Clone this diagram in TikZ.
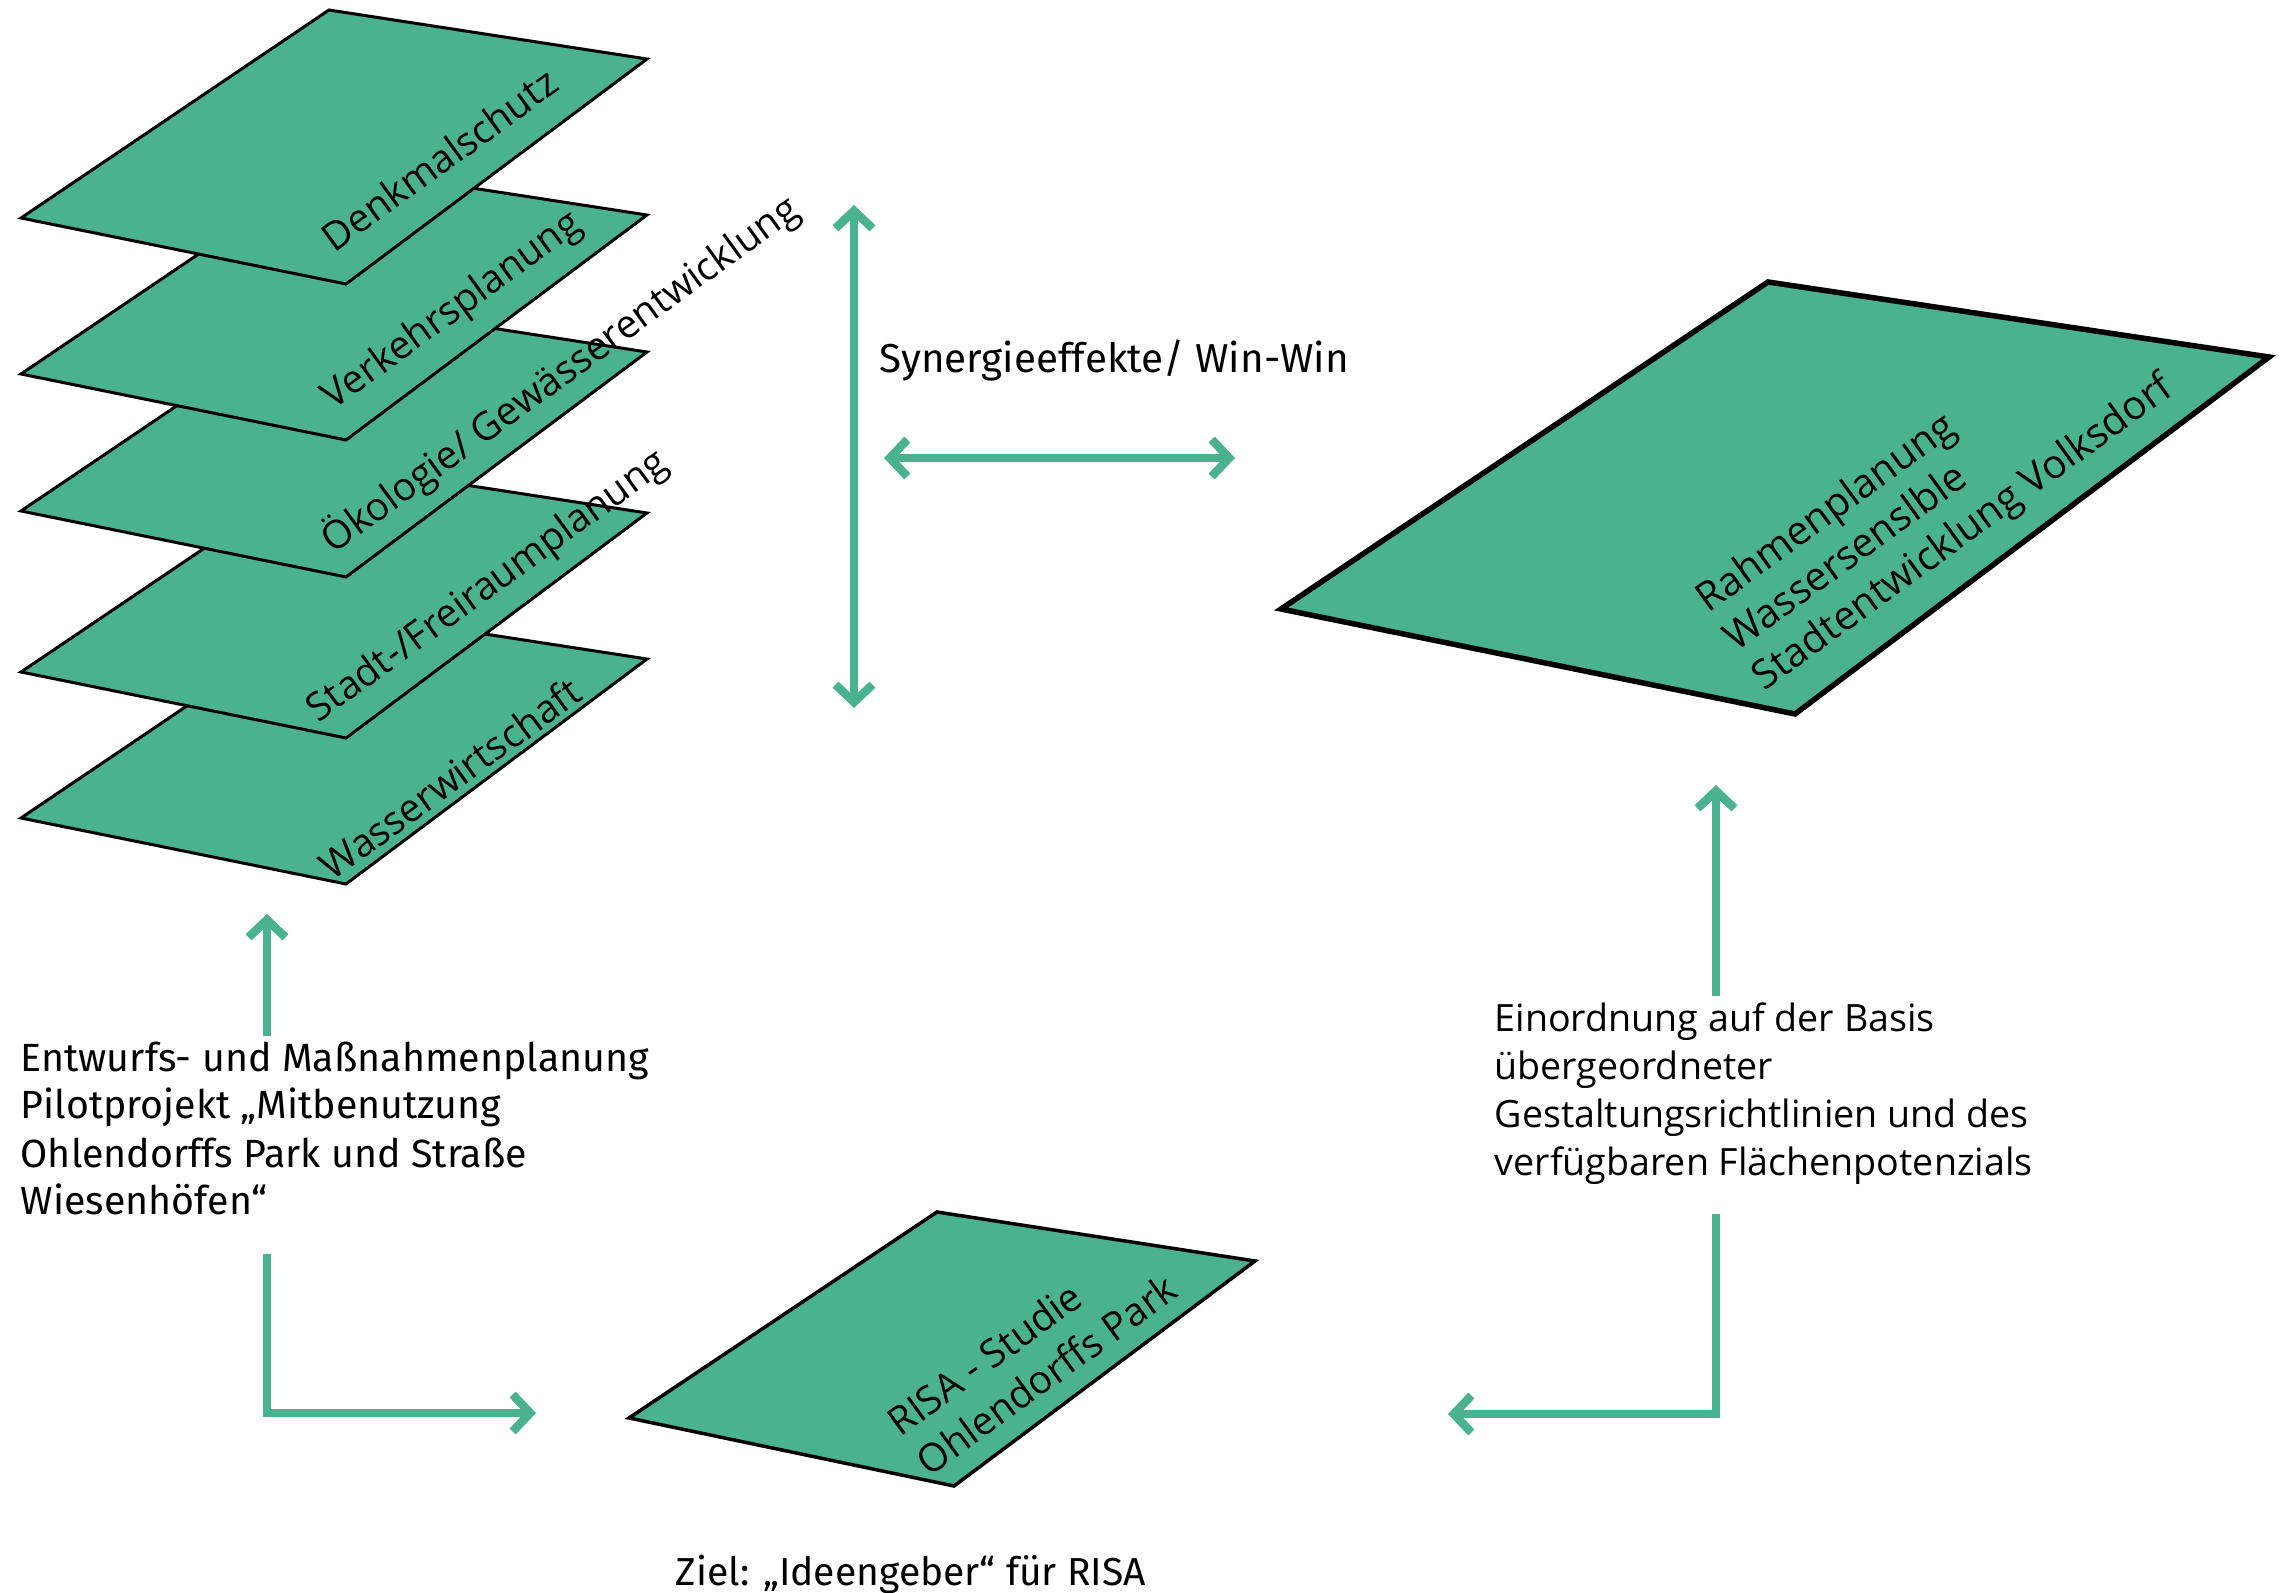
\documentclass[tikz,border=0pt]{standalone}
\usepackage{fontspec}
\newfontfamily\firaf{Fira Sans}
\newfontfamily\opensf{Open Sans}
\usetikzlibrary{arrows.meta}
\definecolor{risagreen}{RGB}{75,178,143}
\begin{document}
\begin{tikzpicture}[x=0.1mm,y=-0.1mm,
  layer/.style={fill=risagreen, draw=black, line width=0.3mm, line join=miter},
  conn/.style={draw=risagreen, line width=0.85mm, line join=miter},
  chev/.tip={Straight Barb[length=1.75mm,width=3.7mm]},
  lbl/.style={inner sep=0pt, anchor=base west, font=\opensf\fontsize{11.1}{13}\selectfont, rotate=#1},
  txt/.style={inner sep=0pt, anchor=base west, font=\firaf\fontsize{11.5}{13.5}\selectfont},
  txto/.style={inner sep=0pt, anchor=base west, font=\opensf\fontsize{10.7}{13.5}\selectfont}]
\useasboundingbox (0,0) rectangle (2284,1593);

% ---- stacked layers (bottom first)
\foreach \L in {818,672,511,374,218}{
  \draw[layer] (21,\L) -- (329,\L-208) -- (647,\L-159) -- (346,\L+66) -- cycle;
}
\node[lbl=36] (ldenk) at (334,254) {Denkmalschutz};
\node[lbl=36] (lverk) at (333,411) {Verkehrsplanung};
\node[lbl=36] (loeko) at (333,555) {Ökologie/ Gewässerentwicklung};
\node[lbl=36] (lstadt) at (318,724) {Stadt-/Freiraumplanung};
\node[lbl=36] (lwasser) at (332,882) {Wasserwirtschaft};

% ---- right plane
\draw[layer, line width=0.55mm] (1281,609) -- (1768,282) -- (2269,357) -- (1795,714) -- cycle;
\node[lbl=36, font=\opensf\fontsize{11.4}{13}\selectfont] (r1) at (1708,614) {Rahmenplanung};
\node[lbl=36, font=\opensf\fontsize{11.4}{13}\selectfont] (r2) at (1736,653) {Wassersenslble};
\node[lbl=36, font=\opensf\fontsize{11.4}{13}\selectfont] (r3) at (1764,692) {Stadtentwicklung Volksdorf};

% ---- bottom plane
\draw[layer, line width=0.35mm] (629,1418) -- (937,1212) -- (1255,1261) -- (954,1486) -- cycle;
\node[lbl=36] (b1) at (900,1438) {RISA - Studie};
\node[lbl=36] (b2) at (929,1478) {Ohlendorffs Park};

% ---- texts
\node[txt] (syn) at (879,373) {Synergieeffekte/ Win-Win};
\node[txt, font=\firaf\fontsize{11.2}{13.5}\selectfont] (e1) at (20,1072) {Entwurfs- und Maßnahmenplanung};
\node[txt, font=\firaf\fontsize{11.2}{13.5}\selectfont] (e2) at (20,1119) {Pilotprojekt „Mitbenutzung};
\node[txt, font=\firaf\fontsize{11.2}{13.5}\selectfont] (e3) at (20,1167) {Ohlendorffs Park und Straße};
\node[txt, font=\firaf\fontsize{11.2}{13.5}\selectfont] (e4) at (20,1214) {Wiesenhöfen“};
\node[txto] (g1) at (1494,1032) {Einordnung auf der Basis};
\node[txto] (g2) at (1494,1079) {übergeordneter};
\node[txto] (g3) at (1494,1127) {Gestaltungsrichtlinien und des};
\node[txto] (g4) at (1494,1175) {verfügbaren Flächenpotenzials};
\node[txt, font=\firaf\fontsize{11.1}{13.5}\selectfont] (ziel) at (675,1585) {Ziel: „Ideengeber“ für RISA};

% ---- connectors
\coordinate (vt) at (854,205);
\coordinate (vb) at (854,708);
\coordinate (hl) at (884,458);
\coordinate (hr) at (1235,458);
\draw[conn, chev-chev] (vb) -- (vt);
\draw[conn, chev-chev] (hl) -- (hr);

\coordinate (lu0) at (267,1036);
\coordinate (lu1) at (267,914);
\draw[conn, -chev] (lu0) -- (lu1);
\coordinate (ll0) at (267,1254);
\coordinate (ll1) at (536,1413);
\draw[conn, -chev] (ll0) |- (ll1);

\coordinate (ru0) at (1716,996);
\coordinate (ru1) at (1716,785);
\draw[conn, -chev] (ru0) -- (ru1);
\coordinate (rl0) at (1716,1214);
\coordinate (rl1) at (1448,1414);
\draw[conn, -chev] (rl0) |- (rl1);
\end{tikzpicture}
\end{document}
